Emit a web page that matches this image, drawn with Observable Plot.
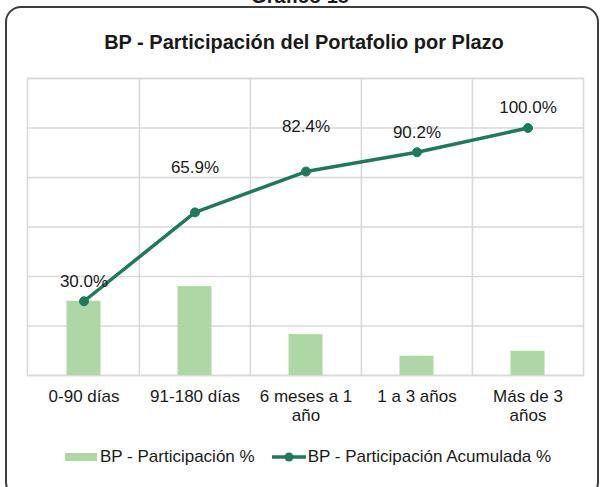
<!DOCTYPE html>
<html>
<head>
<meta charset="utf-8">
<script src="https://cdn.jsdelivr.net/npm/d3@7"></script>
<script src="https://cdn.jsdelivr.net/npm/@observablehq/plot@0.6"></script>
<style>
  html, body { margin: 0; padding: 0; background: #fff; }
  body { width: 600px; height: 487px; position: relative; overflow: hidden;
         font-family: "Liberation Sans", Arial, sans-serif; color: #1a1a1a; }
  #frame { position: absolute; left: 5px; top: 6px; width: 594px; height: 492px;
           border: 2px solid #3c3c3c; border-radius: 16px; box-sizing: border-box; }
  #caption { position: absolute; left: 0; width: 600px; top: -14px; text-align: center;
             font-weight: bold; font-size: 20px; line-height: 20px; }
  #title { position: absolute; left: 4px; width: 600px; top: 30px; text-align: center;
           font-weight: bold; font-size: 20px; line-height: 24px; }
  #chart { position: absolute; left: 0; top: 0; }
  #legend { position: absolute; left: 65px; top: 446px; height: 22px; display: flex;
            align-items: center; font-size: 17px; white-space: nowrap; }
  .sw-bar { width: 32px; height: 8px; background: #afd6a5; margin-right: 3px; }
  .sw-line { width: 34px; height: 12px; margin-right: 2px; margin-left: 17px; }
</style>
</head>
<body>
<div id="frame"></div>
<div id="caption">Gráfico 18</div>
<div id="title">BP - Participación del Portafolio por Plazo</div>
<div id="chart"></div>
<div id="legend"></div>
<script>
const categories = ["0-90 días", "91-180 días", "6 meses a 1 año", "1 a 3 años", "Más de 3 años"];
const tickLabels = ["0-90 días", "91-180 días", "6 meses a 1\naño", "1 a 3 años", "Más de 3\naños"];
const participacion = [30.0, 35.9, 16.5, 7.8, 9.8];
const acumulada = [30.0, 65.9, 82.4, 90.2, 100.0];
const acumuladaLabels = ["30.0%", "65.9%", "82.4%", "90.2%", "100.0%"];
const seriesNames = ["BP - Participación %", "BP - Participación Acumulada %"];

const barColor = "#afd6a5";
const lineColor = "#1e7a5b";
const gridColor = "#d9d9d9";

const rows = categories.map((c, i) => ({
  cat: c, tick: tickLabels[i], part: participacion[i], acum: acumulada[i], label: acumuladaLabels[i], i
}));

const W = 600, H = 430, mL = 27, mR = 17, mT = 78, mB = 55;
const bw = (W - mL - mR) / categories.length;

const plot = Plot.plot({
  width: W, height: H,
  marginLeft: mL, marginRight: mR, marginTop: mT, marginBottom: mB,
  x: { domain: categories, padding: 0, axis: null },
  y: { domain: [0, 120], axis: null },
  style: { fontFamily: "Liberation Sans, Arial, sans-serif", background: "transparent" },
  marks: [
    Plot.gridY(d3.range(0, 121, 20), { stroke: gridColor, strokeOpacity: 1, strokeWidth: 1.6 }),
    Plot.ruleX(categories.slice(1), { x: d => d, dx: -bw / 2, stroke: gridColor, strokeWidth: 1.6 }),
    Plot.frame({ stroke: gridColor, strokeWidth: 1.6 }),
    Plot.barY(rows, { x: "cat", y: "part", fill: barColor, insetLeft: 38.5, insetRight: 38.5 }),
    Plot.line(rows, { x: "cat", y: "acum", stroke: lineColor, strokeWidth: 3.5 }),
    Plot.dot(rows, { x: "cat", y: "acum", r: 4.5, fill: lineColor, stroke: lineColor, strokeWidth: 1 }),
    Plot.text(rows.filter(d => d.i === 1 || d.i === 2), { x: "cat", y: "acum", text: "label", dy: -45, fontSize: 17, fill: "#1a1a1a" }),
    Plot.text(rows.filter(d => !(d.i === 1 || d.i === 2)), { x: "cat", y: "acum", text: "label", dy: -20, fontSize: 17, fill: "#1a1a1a" }),
    Plot.text(rows, { x: "cat", text: "tick", frameAnchor: "bottom", lineAnchor: "top", dy: 13, lineHeight: 1.12, fontSize: 17, fill: "#1a1a1a" })
  ]
});
document.getElementById("chart").appendChild(plot);

const legend = document.getElementById("legend");
legend.innerHTML =
  `<div class="sw-bar"></div><span>${seriesNames[0]}</span>` +
  `<svg class="sw-line" viewBox="0 0 34 12"><line x1="0" y1="6" x2="34" y2="6" stroke="${lineColor}" stroke-width="3.5"/><circle cx="17" cy="6" r="4.5" fill="${lineColor}"/></svg><span>${seriesNames[1]}</span>`;
</script>
</body>
</html>
